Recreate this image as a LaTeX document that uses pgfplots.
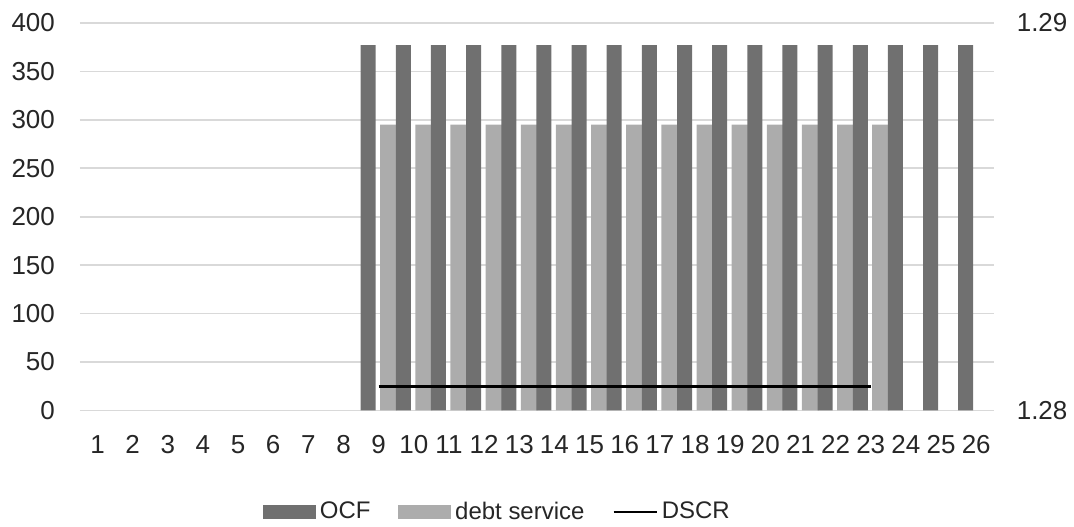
\documentclass[border=0pt]{standalone}
\usepackage{pgfplots}
\pgfplotsset{compat=1.18}
\usepackage{fontspec}
\setmainfont{Liberation Sans}
\definecolor{ocf}{RGB}{112,112,112}
\definecolor{debt}{RGB}{172,172,172}
\definecolor{gridc}{RGB}{217,217,217}
\definecolor{txt}{RGB}{38,38,38}
\begin{document}
\begin{tikzpicture}
\begin{axis}[name=main,
  scale only axis, width=457.5pt, height=194pt,
  xmin=0.5, xmax=26.5, ymin=0, ymax=400,
  xtick={1,...,26}, ytick={0,50,...,400},
  xmajorgrids=false, ymajorgrids=true, grid style={gridc, line width=0.8pt},
  axis line style={draw=none}, major tick length=0pt,
  /pgf/number format/assume math mode=true,
  tick label style={font=\fontsize{13}{15}\selectfont, text=txt},
  yticklabel style={xshift=-9pt},
  xticklabel style={yshift=-9pt},
  legend style={at={(0.458,-0.262)}, anchor=center, draw=none, fill=none,
    legend columns=3, font=\fontsize{12}{14}\selectfont, text=txt,
    /tikz/every even column/.append style={column sep=12pt},
    inner sep=0pt},
  legend cell align=left,
]
\addlegendimage{legend image code/.code={\fill[ocf] (0pt,-3.25pt) rectangle (26pt,3.25pt);}}
\addlegendentry{OCF}
\addlegendimage{legend image code/.code={\fill[debt] (0pt,-3.25pt) rectangle (26pt,3.25pt);}}
\addlegendentry{debt service}
\addlegendimage{legend image code/.code={\draw[black, line width=1.2pt] (0pt,0pt) -- (21.5pt,0pt);}}
\addlegendentry{DSCR}
\addplot[ybar, fill=debt, draw=none, bar width=8.5pt, bar shift=5pt, forget plot] coordinates {
(9,295) (10,295) (11,295) (12,295) (13,295) (14,295) (15,295) (16,295) (17,295) (18,295) (19,295) (20,295) (21,295) (22,295) (23,295)};
\addplot[ybar, fill=ocf, draw=none, bar width=7.5pt, bar shift=-5.25pt, forget plot] coordinates {
(9,377) (10,377) (11,377) (12,377) (13,377) (14,377) (15,377) (16,377) (17,377) (18,377) (19,377) (20,377) (21,377) (22,377) (23,377) (24,377) (25,377) (26,377)};
\end{axis}
\begin{axis}[
  scale only axis, width=457.5pt, height=194pt,
  xmin=0.5, xmax=26.5, ymin=1.28, ymax=1.29,
  ytick={1.28,1.29}, xtick=\empty,
  xmajorgrids=false, ymajorgrids=false,
  axis x line=none, axis y line*=right,
  axis line style={draw=none}, major tick length=0pt,
  /pgf/number format/assume math mode=true,
  yticklabel style={/pgf/number format/fixed, /pgf/number format/precision=2, /pgf/number format/fixed zerofill, xshift=8pt, font=\fontsize{13}{15}\selectfont, text=txt},
]
\addplot[black, line width=1.2pt, mark=none] coordinates {(9,1.28062) (23,1.28062)};
\end{axis}
\path (main.south west) ++(-40pt,-56.5pt) coordinate (bbA);
\path (main.north east) ++(39.5pt,11.5pt) coordinate (bbB);
\path[draw=none] (bbA) rectangle (bbB);
\end{tikzpicture}
\end{document}
